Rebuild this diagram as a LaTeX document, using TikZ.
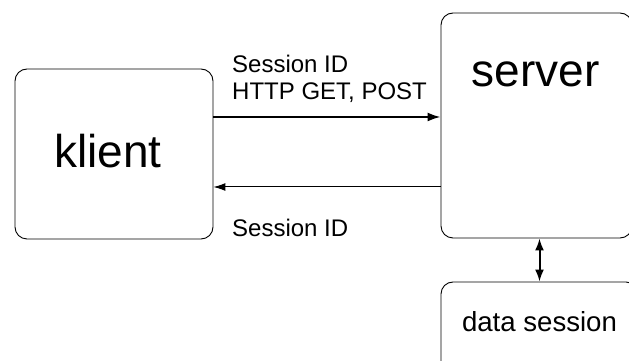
\documentclass[tikz,border=0pt]{standalone}
\usepackage{fontspec}
\setmainfont{Liberation Sans}
\usetikzlibrary{arrows.meta}
\tikzset{
  box/.style={draw, rounded corners=12pt, line width=0.9pt, inner sep=0pt},
  big/.style={font=\fontsize{46}{50}\selectfont, inner sep=0pt, anchor=base},
  small/.style={font=\fontsize{24}{27}\selectfont, inner sep=0pt, anchor=base west},
  req/.style={line width=2pt, -{Latex[length=13pt,width=9pt]}},
  resp/.style={line width=1pt, -{Latex[length=12pt,width=8pt]}},
  link/.style={line width=2pt, {Latex[length=12pt,width=9pt]}-{Latex[length=12pt,width=9pt]}},
}
\begin{document}
\begin{tikzpicture}[x=1pt,y=1pt]
  \useasboundingbox (0,0) rectangle (629,361);
  \node [box, minimum width=198pt, minimum height=170pt] (klient) at (114,207) {};
  \node [box, minimum width=191pt, minimum height=225pt] (server) at (536.5,235.5) {};
  \node [box, minimum width=197pt, minimum height=110pt] (data) at (539.5,24) {};
  \node [big] (klienttext) at (108,193) {klient};
  \node [big] (servertext) at (535.5,274) {server};
  \node [font=\fontsize{27.6}{30}\selectfont, inner sep=0pt, anchor=base] (datatext) at (539.5,29) {data session};
  \draw [req] ([yshift=37pt]klient.east) -- ([yshift=37pt]klient.east -| server.west);
  \draw [resp] ([yshift=-33pt]klient.east -| server.west) -- ([yshift=-33pt]klient.east);
  \draw [link] (server.south -| data.north) -- (data.north);
  \node [small] (reqid) at (232,288) {Session ID};
  \node [small] (reqhttp) at (232,261) {HTTP GET, POST};
  \node [small] (respid) at (232,124) {Session ID};
\end{tikzpicture}
\end{document}
